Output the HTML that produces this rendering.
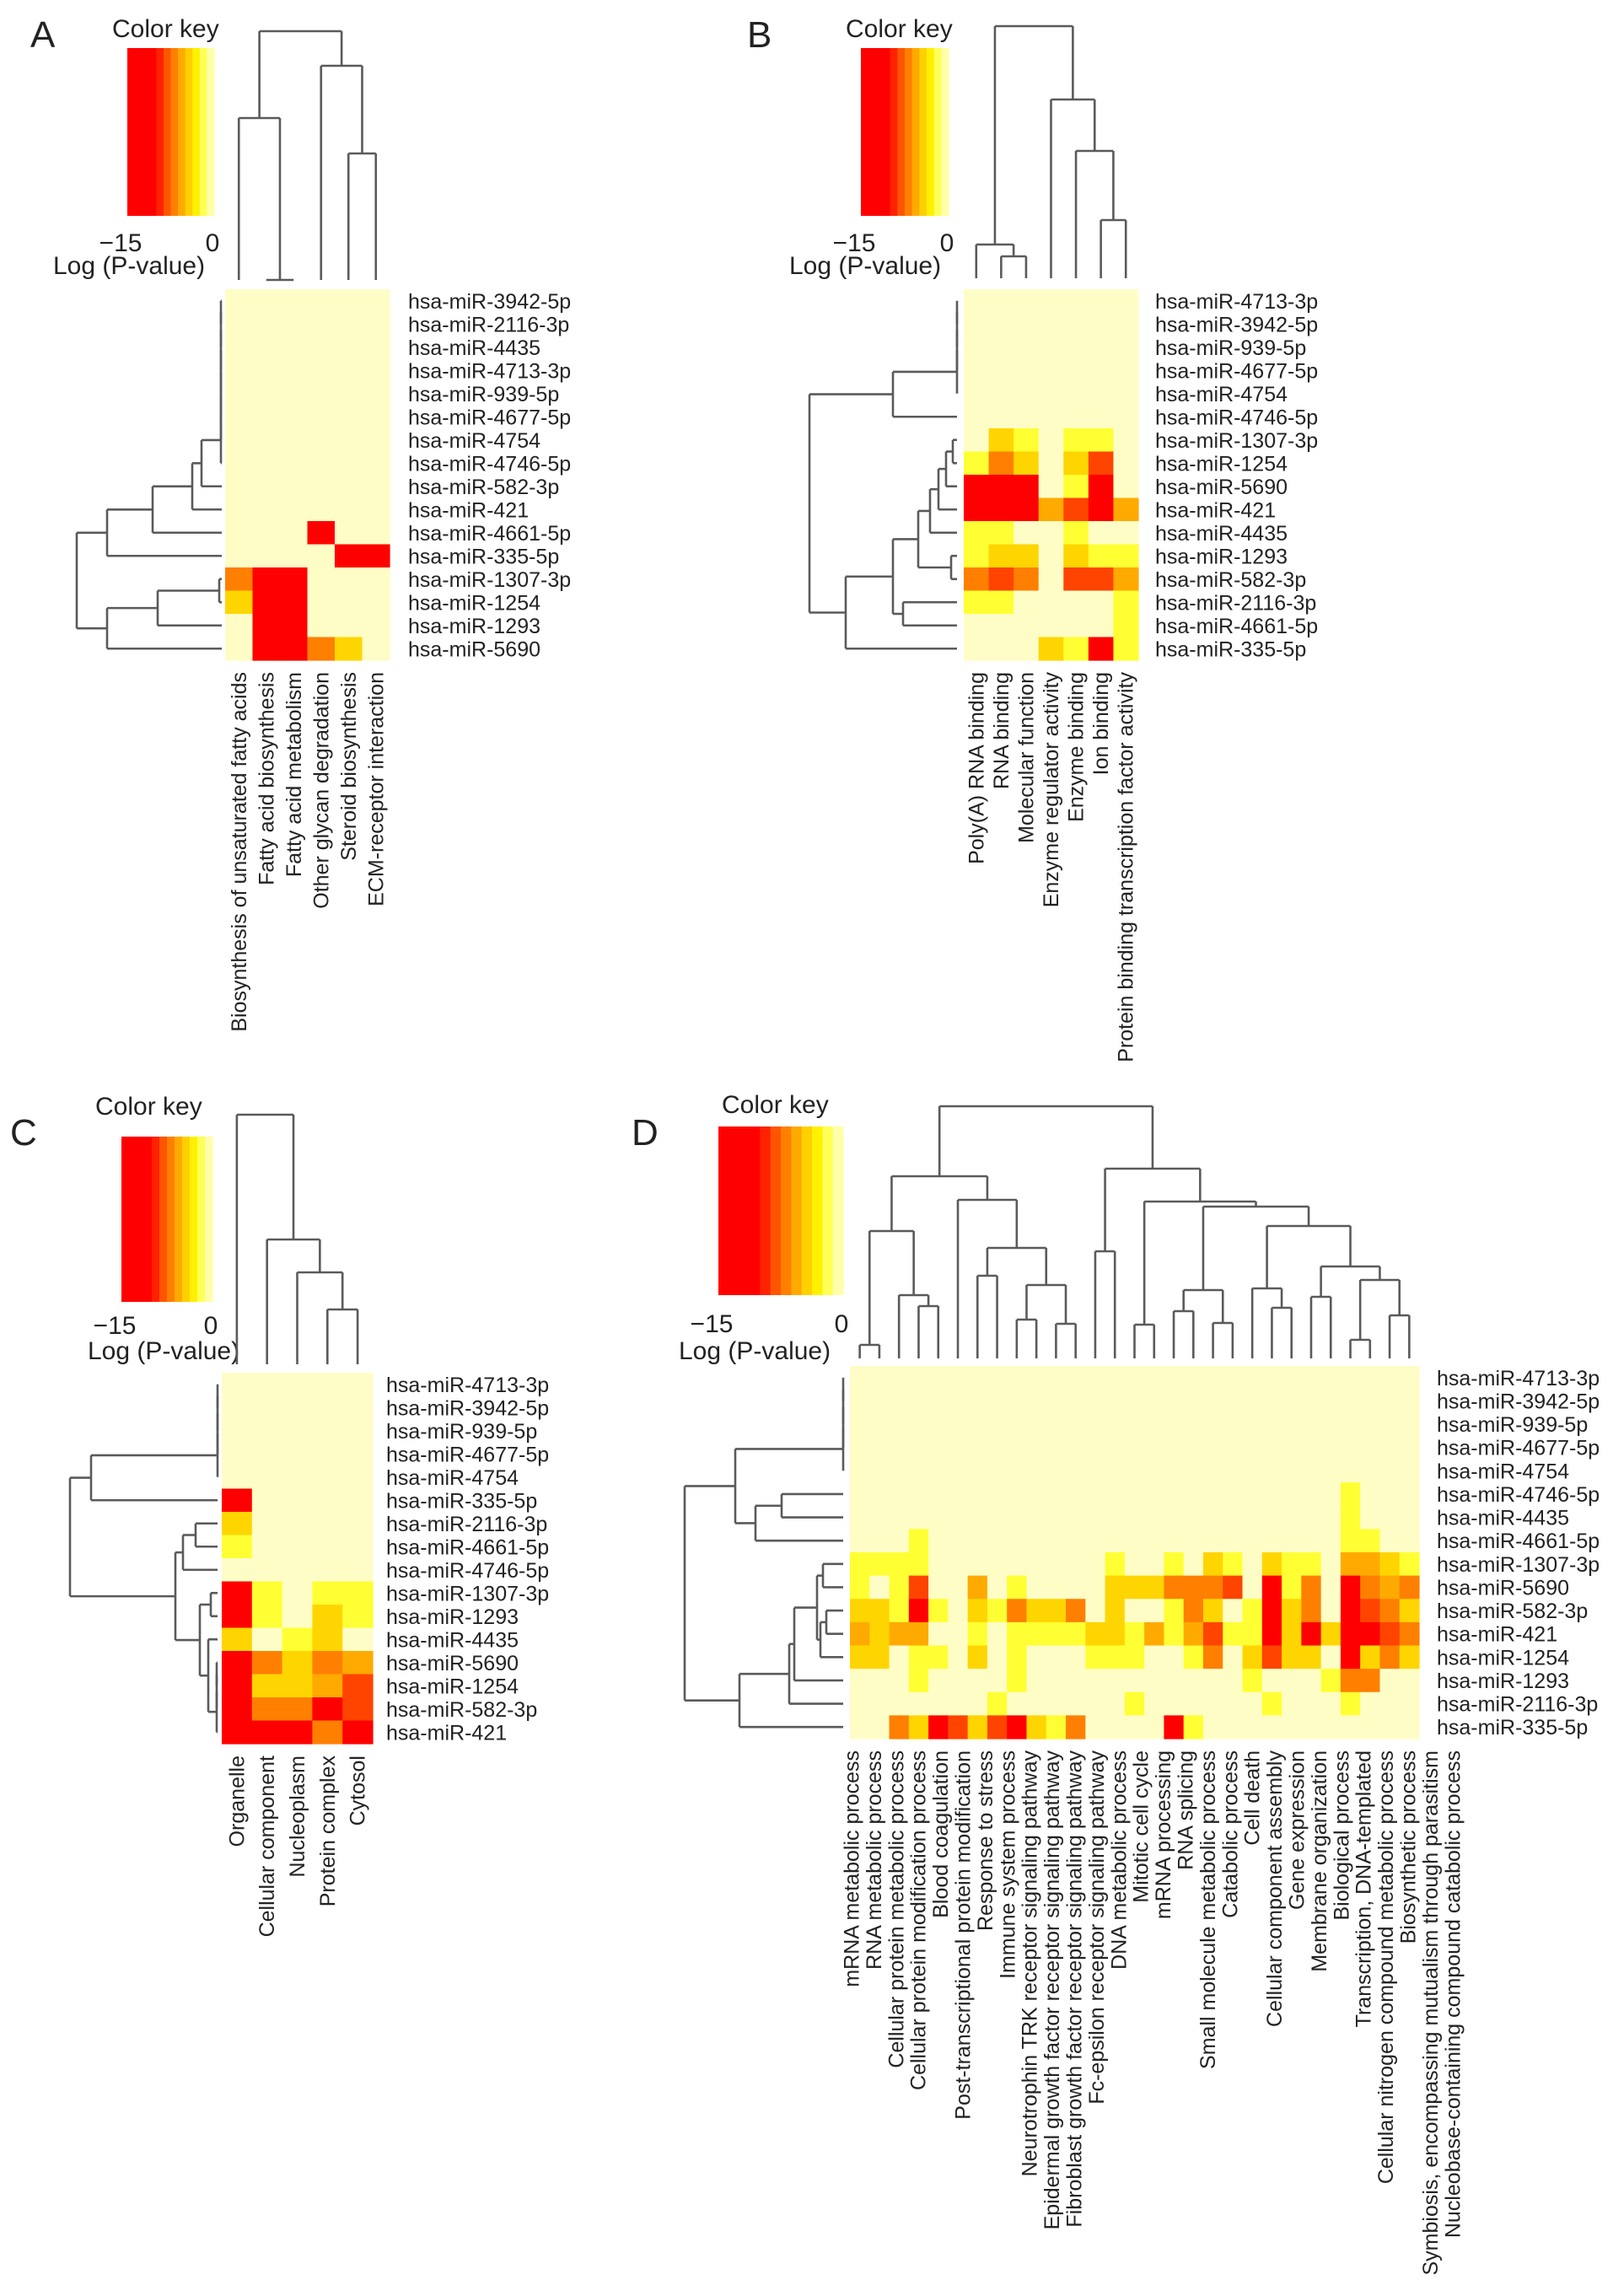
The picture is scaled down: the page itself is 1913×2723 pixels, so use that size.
<!DOCTYPE html>
<html><head><meta charset="utf-8"><title>miRNA enrichment heatmaps</title>
<style>
html,body{margin:0;padding:0;background:#fff;}
svg{display:block;font-family:"Liberation Sans",Arial,sans-serif;}
</style></head>
<body>
<svg id="fig" xmlns="http://www.w3.org/2000/svg" width="1913" height="2723" viewBox="0 0 1913 2723"></svg>
<script>
// ---------- DATA ----------
const aRows=["hsa-miR-3942-5p","hsa-miR-2116-3p","hsa-miR-4435","hsa-miR-4713-3p","hsa-miR-939-5p","hsa-miR-4677-5p","hsa-miR-4754","hsa-miR-4746-5p","hsa-miR-582-3p","hsa-miR-421","hsa-miR-4661-5p","hsa-miR-335-5p","hsa-miR-1307-3p","hsa-miR-1254","hsa-miR-1293","hsa-miR-5690"];
const aCols=["Biosynthesis of unsaturated fatty acids","Fatty acid biosynthesis","Fatty acid metabolism","Other glycan degradation","Steroid biosynthesis","ECM-receptor interaction"];
const aVals=[[0,0,0,0,0,0],[0,0,0,0,0,0],[0,0,0,0,0,0],[0,0,0,0,0,0],[0,0,0,0,0,0],[0,0,0,0,0,0],[0,0,0,0,0,0],[0,0,0,0,0,0],[0,0,0,0,0,0],[0,0,0,0,0,0],
[0,0,0,-13,0,0],[0,0,0,0,-13,-11],[-8,-13,-13,0,0,0],[-4,-13,-13,0,0,0],[0,-13,-13,0,0,0],[0,-13,-13,-8,-3,0]];

const bRows=["hsa-miR-4713-3p","hsa-miR-3942-5p","hsa-miR-939-5p","hsa-miR-4677-5p","hsa-miR-4754","hsa-miR-4746-5p","hsa-miR-1307-3p","hsa-miR-1254","hsa-miR-5690","hsa-miR-421","hsa-miR-4435","hsa-miR-1293","hsa-miR-582-3p","hsa-miR-2116-3p","hsa-miR-4661-5p","hsa-miR-335-5p"];
const bCols=["Poly(A) RNA binding","RNA binding","Molecular function","Enzyme regulator activity","Enzyme binding","Ion binding","Protein binding transcription factor activity"];
const bVals=[[0,0,0,0,0,0,0],[0,0,0,0,0,0,0],[0,0,0,0,0,0,0],[0,0,0,0,0,0,0],[0,0,0,0,0,0,0],[0,0,0,0,0,0,0],
[0,-4,-2,0,-2,-2,0],[-2,-8,-4,0,-4,-10,0],[-11,-13,-11,0,-2,-13,0],[-13,-13,-13,-5,-9,-13,-5],[-2,-2,0,0,-2,0,0],
[-2,-4,-4,0,-4,-2,-2],[-7,-10,-7,0,-9,-9,-6],[-2,-2,0,0,0,0,-2],[0,0,0,0,0,0,-2],[0,0,0,-4,-2,-13,-2]];

const cRows=["hsa-miR-4713-3p","hsa-miR-3942-5p","hsa-miR-939-5p","hsa-miR-4677-5p","hsa-miR-4754","hsa-miR-335-5p","hsa-miR-2116-3p","hsa-miR-4661-5p","hsa-miR-4746-5p","hsa-miR-1307-3p","hsa-miR-1293","hsa-miR-4435","hsa-miR-5690","hsa-miR-1254","hsa-miR-582-3p","hsa-miR-421"];
const cCols=["Organelle","Cellular component","Nucleoplasm","Protein complex","Cytosol"];
const cVals=[[0,0,0,0,0],[0,0,0,0,0],[0,0,0,0,0],[0,0,0,0,0],[0,0,0,0,0],[-13,0,0,0,0],[-4,0,0,0,0],[-2,0,0,0,0],[0,0,0,0,0],
[-13,-2,0,-2,-2],[-13,-2,0,-4,-2],[-4,0,-2,-4,0],[-13,-8,-4,-8,-5],[-13,-4,-4,-6,-10],[-13,-8,-7,-13,-10],[-13,-11,-11,-8,-11]];

const dRows=["hsa-miR-4713-3p","hsa-miR-3942-5p","hsa-miR-939-5p","hsa-miR-4677-5p","hsa-miR-4754","hsa-miR-4746-5p","hsa-miR-4435","hsa-miR-4661-5p","hsa-miR-1307-3p","hsa-miR-5690","hsa-miR-582-3p","hsa-miR-421","hsa-miR-1254","hsa-miR-1293","hsa-miR-2116-3p","hsa-miR-335-5p"];
const dLabels=["mRNA metabolic process","RNA metabolic process","Cellular protein metabolic process","Cellular protein modification process","Blood coagulation","Post-transcriptional protein modification","Response to stress","Immune system process","Neurotrophin TRK receptor signaling pathway","Epidermal growth factor receptor signaling pathway","Fibroblast growth factor receptor signaling pathway","Fc-epsilon receptor signaling pathway","DNA metabolic process","Mitotic cell cycle","mRNA processing","RNA splicing","Small molecule metabolic process","Catabolic process","Cell death","Cellular component assembly","Gene expression","Membrane organization","Biological process","Transcription, DNA-templated","Cellular nitrogen compound metabolic process","Biosynthetic process","Symbiosis, encompassing mutualism through parasitism","Nucleobase-containing compound catabolic process"];
const dNCols=29;
const dVals=[
[0,0,0,0,0,0,0,0,0,0,0,0,0,0,0,0,0,0,0,0,0,0,0,0,0,0,0,0,0],
[0,0,0,0,0,0,0,0,0,0,0,0,0,0,0,0,0,0,0,0,0,0,0,0,0,0,0,0,0],
[0,0,0,0,0,0,0,0,0,0,0,0,0,0,0,0,0,0,0,0,0,0,0,0,0,0,0,0,0],
[0,0,0,0,0,0,0,0,0,0,0,0,0,0,0,0,0,0,0,0,0,0,0,0,0,0,0,0,0],
[0,0,0,0,0,0,0,0,0,0,0,0,0,0,0,0,0,0,0,0,0,0,0,0,0,0,0,0,0],
[0,0,0,0,0,0,0,0,0,0,0,0,0,0,0,0,0,0,0,0,0,0,0,0,0,-2,0,0,0],
[0,0,0,0,0,0,0,0,0,0,0,0,0,0,0,0,0,0,0,0,0,0,0,0,0,-2,0,0,0],
[0,0,0,-2,0,0,0,0,0,0,0,0,0,0,0,0,0,0,0,0,0,0,0,0,0,-2,-2,0,0],
[-2,-2,-2,-2,0,0,0,0,0,0,0,0,0,-2,0,0,-2,0,-4,-2,0,-4,-2,-2,0,-6,-6,-4,-2],
[-2,0,-2,-10,0,0,-6,0,-2,0,0,0,0,-4,-4,-4,-8,-8,-8,-10,0,-13,-2,-8,0,-13,-8,-6,-8],
[-4,-4,-2,-13,-2,0,-4,-2,-8,-4,-4,-8,0,-4,0,0,-2,-8,-4,0,-2,-13,-4,-8,0,-13,-10,-8,-4],
[-6,-4,-6,-6,0,0,-2,0,-2,-2,-2,-2,-4,-4,-2,-6,-2,-6,-10,-2,-2,-13,-4,-13,-4,-13,-13,-10,-8],
[-4,-4,0,-2,-2,0,-4,0,-2,0,0,0,-2,-2,-2,0,0,-2,-8,0,-4,-10,-4,-4,0,-13,-4,-8,-4],
[0,0,0,-2,0,0,0,0,-2,0,0,0,0,0,0,0,0,0,0,0,-2,0,0,0,-2,-8,-8,0,0],
[0,0,0,0,0,0,0,-2,0,0,0,0,0,0,-2,0,0,0,0,0,0,-2,0,0,0,-2,0,0,0],
[0,0,-8,-4,-13,-10,-4,-10,-13,-4,-2,-8,0,0,0,0,-13,-2,0,0,0,0,0,0,0,0,0,0,0]];

const keyTicks=["\u221215","0"];
const keyColors=["#FF0000","#FF0000","#FF0000","#FF0000","#FF2200","#FF5500","#FF8000","#FFAA00","#FFD000","#FFF000","#FFFF55","#FFFFAA"];

// ---------- HELPERS ----------
const NS="http://www.w3.org/2000/svg";
const svg=document.getElementById('fig');
function mk(tag,attrs,parent){const e=document.createElementNS(NS,tag);for(const k in attrs)e.setAttribute(k,attrs[k]);(parent||svg).appendChild(e);return e;}
function color(v){
  if(v>-1)return "#FFFDC6";
  if(v>-3)return "#FFFF33";
  if(v>-5)return "#FFD500";
  if(v>-7)return "#FFAA00";
  if(v>-9)return "#FF7F00";
  if(v>-11)return "#FF4400";
  return "#FF0000";
}
function txt(x,y,s,size,attrs,parent){const t=mk('text',Object.assign({x:x,y:y,'font-size':size,fill:'#222'},attrs||{}),parent);t.textContent=s;return t;}

function dendro(tree,leafPos,base,orient,g){
  function rec(n){
    if(typeof n==='number')return {p:leafPos(n),h:base};
    const a=rec(n[0]),b=rec(n[1]),h=n[2];
    const seg=(p1,h1,p2,h2)=>{
      const ln=orient==='col'?mk('line',{x1:p1,y1:h1,x2:p2,y2:h2},g):mk('line',{x1:h1,y1:p1,x2:h2,y2:p2},g);
      
      
    };
    seg(a.p,a.h,a.p,h);seg(b.p,b.h,b.p,h);seg(a.p,h,b.p,h);
    return {p:(a.p+b.p)/2,h:h};
  }
  rec(tree);
}

function panel(cfg){
  const g=mk('g',{});
  
  
  const L=txt(cfg.letterX,cfg.letterY,cfg.id,44,{},g);
  
  
  const kg=mk('g',{},g);
  
  
  const kt=txt(cfg.keyTitleX,cfg.keyTitleY,"Color key",30,{},kg);
  
  
  const kw=(cfg.key[2]-cfg.key[0])/keyColors.length;
  keyColors.forEach((c,i)=>{
    const r=mk('rect',{x:cfg.key[0]+i*kw,y:cfg.key[1],width:kw+0.6,height:cfg.key[3]-cfg.key[1],fill:c},kg);
    
    
  });
  const t1=txt(cfg.key[0]-8,cfg.tickY,keyTicks[0],30,{'text-anchor':'middle'},kg);
  
  
  const t2=txt(cfg.key[2]-2,cfg.tickY,keyTicks[1],30,{'text-anchor':'middle'},kg);
  
  
  const lg=txt(cfg.logX,cfg.logY,"Log (P-value)",30,{},kg);
  
  
  const [x0,y0,x1,y1]=cfg.hm;
  const nC=cfg.nCols,nR=cfg.rows.length;
  const cw=(x1-x0)/nC,rh=(y1-y0)/nR;
  const colX=c=>x0+cw*(c+0.5),rowY=r=>y0+rh*(r+0.5);
  const hg=mk('g',{},g);
  
  
  cfg.vals.forEach((row,r)=>{for(let c=0;c<nC;c++){
    const v=row[c]||0;
    const cell=mk('rect',{x:x0+c*cw,y:y0+r*rh,width:cw+0.6,height:rh+0.6,fill:color(v)},hg);
    
    
  }});
  cfg.rows.forEach((s,r)=>{
    const t=txt(cfg.rowLabelX,rowY(r)+9,s,25,{},g);
    
    
  });
  const labPos=cfg.labelX||colX;
  cfg.cols.forEach((s,c)=>{
    const lx=labPos(c)+8.5,ly=y1+14;
    const t=txt(lx,ly,s,cfg.colFont||25,{'text-anchor':'end',transform:'rotate(-90 '+lx+' '+ly+')'},g);
    
    
  });
  const dg=mk('g',{stroke:'#5a5a5a','stroke-width':2.6,fill:'none'},g);
  
  
  dendro(cfg.colTree,colX,cfg.colBase,'col',dg);
  dendro(cfg.rowTree,rowY,cfg.rowBase,'row',dg);
}

function chain(n,h){let t=0;for(let i=1;i<n;i++)t=[t,i,h];return t;}

// ---------- PANELS ----------
panel({id:'A',letterX:36,letterY:56,keyTitleX:133,keyTitleY:44,key:[151,57,254,256],tickY:298,logX:63,logY:325,
  hm:[267,343,462,783],nCols:6,rows:aRows,cols:aCols,vals:aVals,rowLabelX:484,
  colTree:[[0,[1,2,332],140],[3,[4,5,182],78],37],colBase:332,
  rowTree:[[[[[chain(8,262),8,239],9,228],10,181],11,127],[[[12,13,260],14,187],15,127],91],rowBase:263});

panel({id:'B',letterX:886,letterY:56,keyTitleX:1003,keyTitleY:44,key:[1021,57,1125,256],tickY:298,logX:936,logY:325,
  hm:[1143,343,1350,783],nCols:7,rows:bRows,cols:bCols,vals:bVals,rowLabelX:1370,
  colTree:[[0,[1,2,304],290],[3,[4,[5,6,261],179],118],31],colBase:330,
  rowTree:[[chain(5,1135),5,1059],[[[[[[[6,7,1130],8,1122],9,1113],10,1103],[11,12,1128],1089],[13,14,1071],1059],15,1003],960],rowBase:1135});

panel({id:'C',letterX:12,letterY:1358,keyTitleX:113,keyTitleY:1322,key:[144,1348,252,1544],tickY:1582,logX:104,logY:1612,
  hm:[263,1628,442,2068],nCols:5,rows:cRows,cols:cCols,vals:cVals,rowLabelX:458,
  colTree:[0,[1,[2,[3,4,1553],1509],1470],1322],colBase:1618,
  rowTree:[[chain(5,258),5,108],[[[6,7,232],8,217],[[9,10,250],[11,[[[12,13,257],14,257],15,257],247],237],208],83],rowBase:258});

panel({id:'D',letterX:749,letterY:1358,keyTitleX:856,keyTitleY:1320,key:[852,1336,1000,1536],tickY:1580,logX:805,logY:1612,
  hm:[1008,1620,1683,2062],nCols:dNCols,rows:dRows,cols:dLabels,vals:dVals,rowLabelX:1704,colFont:25,
  labelX:c=>1010+26.4*c,
  colTree:[[[[0,1,1595],[2,[3,4,1549],1536],1460],[5,[[6,7,1513],[[8,9,1565],[10,11,1570],1524],1480],1423],1395],
           [[12,13,1484],[[14,15,1571],[[[16,17,1555],[18,19,1569],1530],[[20,[21,22,1551],1528],[[23,24,1538],[[25,26,1589],[27,28,1560],1518],1502],1454],1431],1425],1386],1312],
  colBase:1611,
  rowTree:[[chain(5,1000),[[5,6,927],7,896],872],[[[[[8,9,976],[[10,11,980],12,973],969],13,942],14,936],15,877],812],rowBase:1000});
</script>
</body></html>
